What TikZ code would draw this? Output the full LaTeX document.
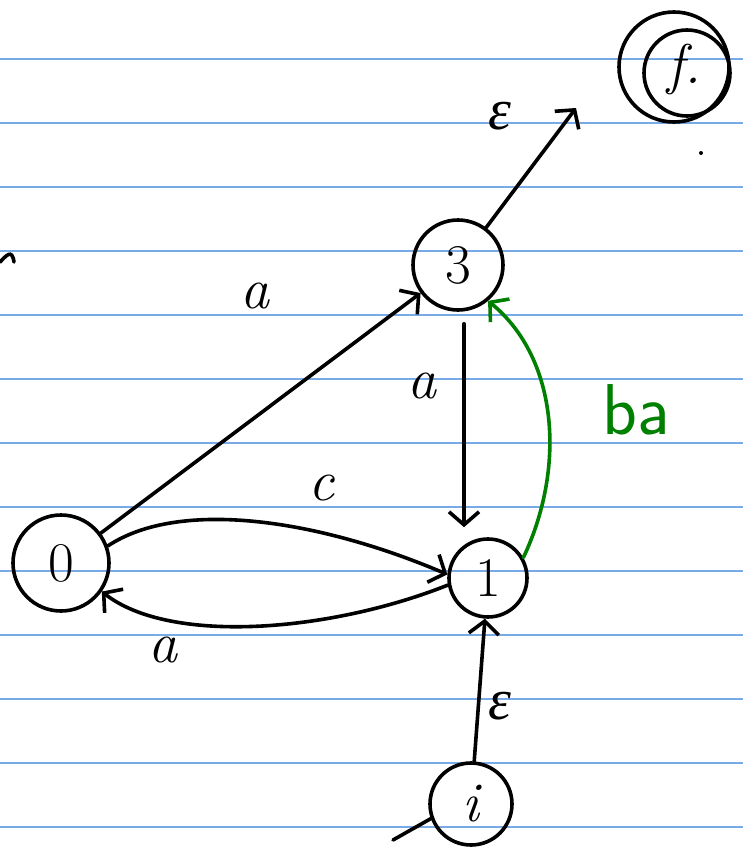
\documentclass[tikz,border=0pt]{standalone}
\usepackage{fontspec}
\newfontfamily\gk{Liberation Serif}
\usetikzlibrary{arrows.meta}
\definecolor{rule}{RGB}{120,170,232}
\definecolor{ink}{RGB}{0,0,0}
\definecolor{pen}{RGB}{0,128,0}
\begin{document}
\begin{tikzpicture}[x=1pt,y=-1pt,
  state/.style={circle,draw=ink,line width=3.6pt,inner sep=0pt,font=\fontsize{56}{60}\selectfont},
  edge/.style={line width=3.6pt,draw=ink,line cap=round,-{Straight Barb[length=13pt,width=30pt,line width=3.6pt]}},
  lbl/.style={font=\fontsize{58}{62}\selectfont\itshape,inner sep=0pt},
  glbl/.style={font=\fontsize{58}{62}\selectfont\gk\itshape,inner sep=0pt},
  ruleline/.style={draw=rule,line width=1.2pt}]
\useasboundingbox (0,0) rectangle (743,851);
\fill[white] (0,0) rectangle (743,851);
\foreach \k in {0,...,12}{
  \draw[ruleline] (0,{59+64*\k}) -- (743,{59+64*\k});
}
% states
\node[state,minimum size=110pt] (nf) at (674,67) {};
\draw[line width=3.6pt] (687,73) circle (43);
\node[font=\fontsize{56}{60}\selectfont\itshape] (fl) at (684,70) {f.};
\node[state,minimum size=90pt] (n3) at (458,265) {3};
\node[state,minimum size=78pt] (n1) at (488,578) {1};
\node[state,minimum size=96pt] (n0) at (61,563) {0};
\node[state,minimum size=82pt,font=\fontsize{56}{60}\selectfont\itshape] (ni) at (471,804) {i};
% initial marker
\coordinate (init) at (393,840);
\draw[line width=3.6pt,line cap=round] (init) -- (ni.200);
% stray marks
\fill (701,153) circle (2);
\draw[line width=3.6pt,line cap=round] (0,262) .. controls (6,256) and (12,248) .. (14,262);
% edges
\coordinate (fe) at (576,108);
\draw[edge] (n3) -- (fe);
\draw[edge] (n0) -- (n3);
\draw[edge] ([xshift=6pt,yshift=-12pt]n3.south) -- ([xshift=-24pt,yshift=10pt]n1.north);
\draw[edge,draw=pen,-{Straight Barb[length=13pt,width=30pt,line width=3.6pt,color=pen]}] (n1.30) .. controls (565,470) and (560,360) .. (n3.-50);
\draw[edge] (n0.20) .. controls (180,498) and (320,520) .. (n1.175);
\draw[edge] (n1.190) .. controls (330,632) and (170,645) .. (n0.-35);
\draw[edge] (ni) -- (n1);
% labels
\node[glbl] (l1) at (500,116) {ε};
\node[lbl] (l2) at (255,296) {a};
\node[lbl] (l3) at (422,386) {a};
\node[lbl,text=pen,font=\fontsize{72}{76}\selectfont\sffamily] (l4) at (636,410) {ba};
\node[lbl] (l5) at (322,488) {c};
\node[lbl] (l6) at (163,650) {a};
\node[glbl] (l7) at (500,706) {ε};
\end{tikzpicture}
\end{document}
